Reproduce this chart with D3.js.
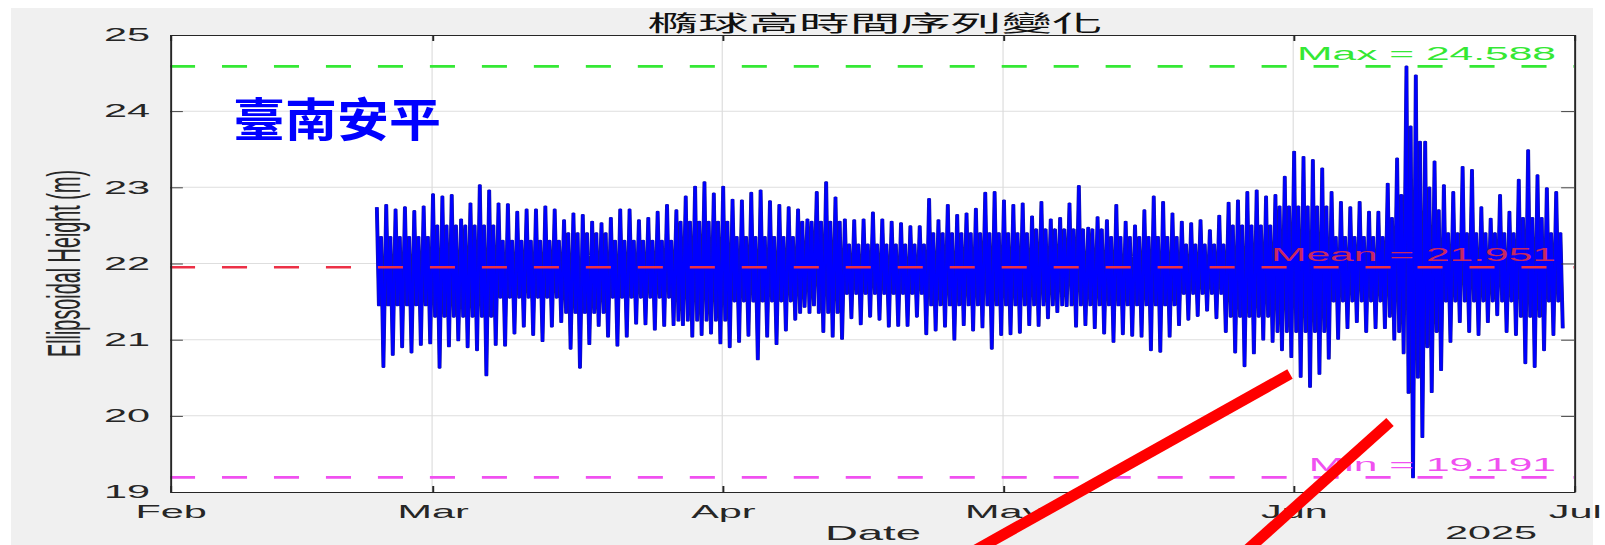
<!DOCTYPE html>
<html>
<head>
<meta charset="utf-8">
<script src="https://cdn.jsdelivr.net/npm/d3@7"></script>
<style>
  body { margin: 0; background: #fff; }
  svg { display: block; }
</style>
</head>
<body>
<script>
// record starts this many days after 1 Feb 2025, one entry per day
var startDay = 22;

// daily higher high (m)
var highHigh = [
  22.74, 22.77, 22.71, 22.74, 22.69, 22.75, 22.91, 22.88, 22.90, 22.58,
  22.79, 23.03, 22.96, 22.79, 22.78, 22.68, 22.71, 22.71, 22.75, 22.71,
  22.57, 22.66, 22.64, 22.55, 22.53, 22.60, 22.71, 22.71, 22.57, 22.60,
  22.68, 22.77, 22.70, 22.88, 23.01, 23.07, 22.92, 23.01, 22.84, 22.83,
  22.93, 22.96, 22.82, 22.77, 22.74, 22.71, 22.58, 22.94, 23.07, 22.87,
  22.58, 22.57, 22.58, 22.67, 22.58, 22.55, 22.53, 22.49, 22.49, 22.85,
  22.57, 22.77, 22.64, 22.66, 22.72, 22.93, 22.94, 22.83, 22.77, 22.79,
  22.62, 22.81, 22.58, 22.60, 22.79, 23.02, 22.47, 22.61, 22.57, 22.77,
  22.55, 22.50, 22.70, 22.88, 22.81, 22.66, 22.55, 22.53, 22.57, 22.44,
  22.63, 22.80, 22.83, 22.94, 22.96, 22.88, 22.90, 23.14, 23.47, 23.40,
  23.36, 23.25, 22.94, 22.81, 22.74, 22.81, 22.68, 22.68, 23.05, 23.38,
  24.588, 24.47, 23.60, 23.34, 23.03, 22.94, 23.27, 23.23, 22.74, 22.59,
  22.90, 22.68, 23.10, 23.49, 23.16, 22.99, 22.94
];

// daily higher low (m)
var highLow = [
  21.45, 21.45, 21.45, 21.45, 21.45, 21.45, 21.30, 21.30, 21.30, 21.30,
  21.30, 21.30, 21.30, 21.55, 21.55, 21.55, 21.55, 21.55, 21.55, 21.55,
  21.35, 21.35, 21.35, 21.35, 21.35, 21.55, 21.55, 21.55, 21.55, 21.55,
  21.55, 21.55, 21.25, 21.25, 21.25, 21.25, 21.25, 21.25, 21.50, 21.50,
  21.50, 21.50, 21.50, 21.50, 21.50, 21.35, 21.35, 21.35, 21.35, 21.35,
  21.60, 21.60, 21.60, 21.60, 21.60, 21.60, 21.60, 21.60, 21.60, 21.45,
  21.45, 21.45, 21.45, 21.45, 21.45, 21.45, 21.45, 21.45, 21.45, 21.45,
  21.45, 21.45, 21.45, 21.45, 21.45, 21.45, 21.45, 21.45, 21.45, 21.45,
  21.45, 21.45, 21.45, 21.45, 21.45, 21.45, 21.60, 21.60, 21.60, 21.60,
  21.60, 21.30, 21.30, 21.30, 21.30, 21.30, 21.10, 21.10, 21.10, 21.10,
  21.10, 21.10, 21.50, 21.50, 21.50, 21.50, 21.50, 21.50, 21.30, 21.10,
  20.30, 20.50, 20.90, 21.10, 21.50, 21.50, 21.50, 21.50, 21.50, 21.50,
  21.50, 21.50, 21.30, 21.30, 21.30, 21.50, 21.50
];

// daily lower high (m)
var lowHigh = [
  22.35, 22.35, 22.35, 22.35, 22.35, 22.35, 22.50, 22.50, 22.50, 22.50,
  22.50, 22.50, 22.50, 22.30, 22.30, 22.30, 22.30, 22.30, 22.30, 22.30,
  22.40, 22.40, 22.40, 22.40, 22.40, 22.30, 22.30, 22.30, 22.30, 22.30,
  22.30, 22.30, 22.55, 22.55, 22.55, 22.55, 22.55, 22.55, 22.35, 22.35,
  22.35, 22.35, 22.35, 22.35, 22.35, 22.55, 22.55, 22.55, 22.55, 22.55,
  22.25, 22.25, 22.25, 22.25, 22.25, 22.25, 22.25, 22.25, 22.25, 22.40,
  22.40, 22.40, 22.40, 22.40, 22.40, 22.40, 22.40, 22.40, 22.40, 22.40,
  22.45, 22.45, 22.45, 22.45, 22.45, 22.45, 22.45, 22.45, 22.35, 22.35,
  22.35, 22.35, 22.35, 22.35, 22.35, 22.35, 22.25, 22.25, 22.25, 22.25,
  22.25, 22.50, 22.50, 22.50, 22.50, 22.50, 22.75, 22.75, 22.75, 22.75,
  22.75, 22.75, 22.35, 22.35, 22.35, 22.35, 22.35, 22.35, 22.60, 22.90,
  23.80, 23.60, 23.00, 22.70, 22.40, 22.40, 22.40, 22.40, 22.40, 22.40,
  22.40, 22.40, 22.60, 22.60, 22.60, 22.40, 22.40
];

// daily lower low (m)
var lowLow = [
  20.64, 20.80, 20.90, 20.83, 20.93, 20.95, 20.63, 20.91, 20.99, 20.90,
  20.86, 20.53, 20.93, 20.92, 21.08, 21.17, 21.06, 20.98, 21.17, 21.23,
  20.88, 20.63, 20.94, 21.18, 21.04, 20.92, 21.04, 21.21, 21.20, 21.13,
  21.18, 21.19, 21.19, 21.04, 21.06, 21.08, 20.95, 20.90, 20.97, 21.05,
  20.74, 21.04, 20.94, 21.12, 21.26, 21.43, 21.45, 21.10, 21.04, 21.01,
  21.28, 21.20, 21.30, 21.26, 21.17, 21.18, 21.18, 21.30, 21.07, 21.12,
  21.17, 21.00, 21.19, 21.12, 21.16, 20.88, 21.06, 21.07, 21.09, 21.19,
  21.18, 21.28, 21.36, 21.44, 21.17, 21.19, 21.15, 21.08, 20.97, 21.07,
  21.05, 21.04, 20.86, 20.84, 21.04, 21.19, 21.26, 21.31, 21.38, 21.28,
  21.10, 20.83, 20.65, 20.82, 21.00, 20.97, 20.86, 20.77, 20.51, 20.38,
  20.55, 20.75, 21.01, 21.15, 21.23, 21.10, 21.15, 21.15, 21.00, 20.82,
  19.191, 19.72, 20.31, 20.60, 20.97, 21.23, 21.10, 21.06, 21.23, 21.32,
  21.10, 21.06, 20.69, 20.64, 20.86, 21.06, 21.15
];

var yTicks = [19, 20, 21, 22, 23, 24, 25];
var monthTicks = ["2025-02-01", "2025-03-01", "2025-04-01", "2025-05-01", "2025-06-01", "2025-07-01"];
var refNames = ["Max", "Mean", "Min"];
var refValues = [24.588, 21.951, 19.191];
var refColors = ["#35e835", "#ec3046", "#f050f0"];

var W = 1605, H = 545;
var SX = 2.3; // the whole figure is stretched sideways
var font = "'Liberation Sans', Arial, sans-serif";

var svg = d3.select("body").append("svg")
    .attr("width", W)
    .attr("height", H);

var fig = svg.append("g").attr("transform", "scale(" + SX + ",1)");

fig.append("rect")
    .attr("x", 11 / SX).attr("y", 8)
    .attr("width", (1593 - 11) / SX).attr("height", H - 8)
    .attr("fill", "#f0f0f0");

var x = d3.scaleUtc()
    .domain([new Date(monthTicks[0]), new Date(monthTicks[monthTicks.length - 1])])
    .range([170 / SX, 1574 / SX]);
var y = d3.scaleLinear().domain([19, 25]).range([492, 35]);

var x0 = x.range()[0], x1 = x.range()[1];
var y0 = y.range()[0], y1 = y.range()[1];
var months = monthTicks.map(function (d) { return new Date(d); });

fig.append("rect")
    .attr("x", x0).attr("y", y1)
    .attr("width", x1 - x0).attr("height", y0 - y1)
    .attr("fill", "#fff");

// grid
fig.append("g").selectAll("line").data(yTicks.slice(1, -1)).enter()
  .append("line")
    .attr("x1", x0).attr("x2", x1)
    .attr("y1", function (d) { return y(d); })
    .attr("y2", function (d) { return y(d); })
    .attr("stroke", "#dedede").attr("stroke-width", 1);
fig.append("g").selectAll("line").data(months.slice(1, -1)).enter()
  .append("line")
    .attr("x1", function (d) { return x(d); })
    .attr("x2", function (d) { return x(d); })
    .attr("y1", y1).attr("y2", y0)
    .attr("stroke", "#dcdcdc").attr("stroke-width", 0.5);

// series
var pts = [];
highHigh.forEach(function (v, i) {
    var d = startDay + i;
    pts.push([d + 0.10, v]);
    pts.push([d + 0.32, highLow[i]]);
    pts.push([d + 0.55, lowHigh[i]]);
    pts.push([d + 0.80, lowLow[i]]);
});
var t0 = +months[0];
var line = d3.line()
    .x(function (p) { return x(new Date(t0 + p[0] * 864e5)); })
    .y(function (p) { return y(p[1]); });

// dark edge under the blue, like the antialiased original
fig.append("path")
    .datum(pts)
    .attr("d", line)
    .attr("fill", "none")
    .attr("stroke", "#1a1a9a")
    .attr("stroke-width", 1.7)
    .attr("stroke-linejoin", "round");
fig.append("path")
    .datum(pts)
    .attr("d", line)
    .attr("fill", "none")
    .attr("stroke", "#0000ff")
    .attr("stroke-width", 1.2)
    .attr("stroke-linejoin", "round");

// reference lines
refValues.forEach(function (v, i) {
    fig.append("line")
        .attr("x1", x0).attr("x2", x1)
        .attr("y1", y(v)).attr("y2", y(v))
        .attr("stroke", refColors[i])
        .attr("stroke-width", 2.7)
        .attr("stroke-dasharray", "10.9,11.7");
    fig.append("text")
        .attr("x", 1556 / SX)
        .attr("y", y(v) - 6.5)
        .attr("text-anchor", "end")
        .attr("font-family", font)
        .attr("font-size", 18.5)
        .attr("fill", refColors[i])
        .attr("fill-opacity", i == 1 ? 0.85 : 1)
        .text(refNames[i] + " = " + d3.format(".3f")(v));
});

// axes, ticks pointing inward
function styleAxis(g) {
    g.selectAll("path.domain").attr("stroke", "#262626").attr("stroke-width", 0.85);
    g.selectAll(".tick line").attr("stroke", "#262626").attr("stroke-width", 0.85);
    g.selectAll("text").attr("font-family", font).attr("font-size", 18).attr("fill", "#262626");
}

fig.append("g")
    .attr("transform", "translate(" + x0 + ",0)")
    .call(d3.axisLeft(y).tickValues(yTicks).tickFormat(d3.format("d"))
        .tickSizeInner(-5.6).tickSizeOuter(0).tickPadding(8.7))
    .call(styleAxis);
fig.append("g")
    .attr("transform", "translate(" + x1 + ",0)")
    .call(d3.axisRight(y).tickValues(yTicks).tickSizeInner(-5.6).tickSizeOuter(0).tickFormat(""))
    .call(styleAxis);
fig.append("g")
    .attr("transform", "translate(0," + y0 + ")")
    .call(d3.axisBottom(x).tickValues(months).tickSizeInner(-6).tickSizeOuter(0)
        .tickPadding(13.2).tickFormat(d3.utcFormat("%b")))
    .call(styleAxis);
fig.append("g")
    .attr("transform", "translate(0," + y1 + ")")
    .call(d3.axisTop(x).tickValues(months).tickSizeInner(-6).tickSizeOuter(0).tickFormat(""))
    .call(styleAxis);

// labels
fig.append("text")
    .attr("x", 873 / SX).attr("y", 540)
    .attr("text-anchor", "middle")
    .attr("font-family", font).attr("font-size", 19.8).attr("fill", "#262626")
    .text("Date");
fig.append("text")
    .attr("x", 1537 / SX).attr("y", 539)
    .attr("text-anchor", "end")
    .attr("font-family", font).attr("font-size", 18).attr("fill", "#262626")
    .text("2025");
fig.append("text")
    .attr("transform", "translate(" + (80 / SX) + "," + ((y0 + y1) / 2) + ") rotate(-90)")
    .attr("text-anchor", "middle")
    .attr("font-family", font).attr("font-size", 19.8).attr("fill", "#262626")
    .text("Ellipsoidal Height (m)");
fig.append("text")
    .attr("x", 875 / SX).attr("y", 31)
    .attr("text-anchor", "middle")
    .attr("font-family", "'Noto Sans CJK TC', sans-serif")
    .attr("font-size", 22).attr("fill", "#111")
    .text("橢球高時間序列變化");

// annotations added on top of the figure
svg.append("text")
    .attr("transform", "translate(233,136) scale(1.13,1)")
    .attr("font-family", "'Noto Sans CJK TC', sans-serif")
    .attr("font-weight", "bold")
    .attr("font-size", 46)
    .attr("fill", "#0000ff")
    .text("臺南安平");

var marks = [[[1290, 374], [958, 560]], [[1390, 422], [1236, 560]]];
svg.selectAll("line.mark").data(marks).enter()
  .append("line")
    .attr("class", "mark")
    .attr("x1", function (m) { return m[0][0]; })
    .attr("y1", function (m) { return m[0][1]; })
    .attr("x2", function (m) { return m[1][0]; })
    .attr("y2", function (m) { return m[1][1]; })
    .attr("stroke", "#ff0000")
    .attr("stroke-width", 11);
</script>
</body>
</html>
